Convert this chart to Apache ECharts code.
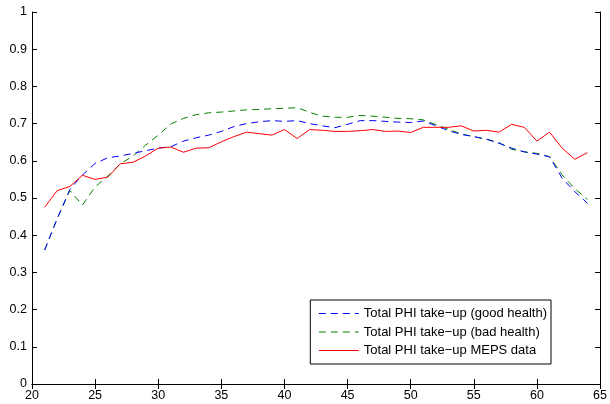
<!DOCTYPE html>
<html>
<head>
<meta charset="utf-8">
<script src="https://cdn.jsdelivr.net/npm/echarts@6/dist/echarts.min.js"></script>
<style>
  html, body { margin: 0; padding: 0; background: #fff; }
  #chart { width: 610px; height: 404px; }
</style>
</head>
<body>
<div id="chart"></div>
<script>
// ages 21..64
const ages = [21,22,23,24,25,26,27,28,29,30,31,32,33,34,35,36,37,38,39,40,41,42,
  43,44,45,46,47,48,49,50,51,52,53,54,55,56,57,58,59,60,61,62,63,64];

const goodHealth = [0.360,0.445,0.523,0.562,0.593,0.608,0.613,0.620,0.627,0.634,0.638,0.653,
  0.662,0.669,0.679,0.692,0.700,0.705,0.708,0.706,0.708,0.700,0.694,0.689,0.698,0.708,
  0.708,0.706,0.704,0.703,0.707,0.694,0.681,0.671,0.665,0.658,0.647,0.634,0.624,0.618,
  0.611,0.553,0.517,0.486];

const badHealth = [0.360,0.445,0.520,0.481,0.530,0.559,0.592,0.613,0.642,0.669,0.699,0.714,
  0.724,0.729,0.731,0.734,0.737,0.738,0.740,0.741,0.743,0.730,0.720,0.717,0.717,0.722,
  0.720,0.717,0.714,0.713,0.710,0.697,0.685,0.672,0.665,0.658,0.649,0.631,0.624,0.620,
  0.611,0.562,0.525,0.496];

const mepsData = [0.475,0.520,0.531,0.561,0.550,0.556,0.592,0.596,0.613,0.634,0.637,0.623,
  0.634,0.635,0.651,0.665,0.677,0.673,0.669,0.684,0.660,0.684,0.682,0.679,0.679,0.681,
  0.684,0.679,0.680,0.676,0.690,0.690,0.690,0.694,0.680,0.682,0.677,0.698,0.690,0.653,
  0.677,0.634,0.604,0.622];

const xTicks = [20,25,30,35,40,45,50,55,60,65];
const yTicks = [0,0.1,0.2,0.3,0.4,0.5,0.6,0.7,0.8,0.9,1];

const seriesNames = [
  "Total PHI take\u2212up (good health)",
  "Total PHI take\u2212up (bad health)",
  "Total PHI take\u2212up MEPS data",
];

const pairs = (ys) => ages.map((a, i) => [a, ys[i]]);

const font = "Liberation Sans, Arial, Helvetica, sans-serif";
const axisLine = { show: true, lineStyle: { color: "#000", width: 1 } };
const tick = { show: true, inside: true, length: 5, lineStyle: { color: "#000" } };

const chart = echarts.init(document.getElementById("chart"));
chart.setOption({
  animation: false,
  grid: { left: 32, right: 9, top: 12, bottom: 20 },
  xAxis: [
    {
      type: "value", min: xTicks[0], max: xTicks[xTicks.length - 1], interval: 5,
      axisLine, axisTick: tick, splitLine: { show: false },
      axisLabel: { color: "#000", fontSize: 12.5, fontFamily: font, margin: 5 },
    },
    {
      type: "value", position: "top", min: xTicks[0], max: xTicks[xTicks.length - 1], interval: 5,
      axisLine, axisTick: tick, splitLine: { show: false }, axisLabel: { show: false },
    },
  ],
  yAxis: [
    {
      type: "value", min: yTicks[0], max: yTicks[yTicks.length - 1], interval: 0.1,
      axisLine, axisTick: tick, splitLine: { show: false },
      axisLabel: {
        color: "#000", fontSize: 12.5, fontFamily: font, margin: 5,
        formatter: (v) => String(Math.round(v * 10) / 10),
      },
    },
    {
      type: "value", position: "right", min: yTicks[0], max: yTicks[yTicks.length - 1], interval: 0.1,
      axisLine, axisTick: tick, splitLine: { show: false }, axisLabel: { show: false },
    },
  ],
  legend: {
    orient: "vertical",
    right: 59,
    top: 300,
    backgroundColor: "#fff",
    borderColor: "#000",
    borderWidth: 1,
    borderRadius: 0,
    padding: [7, 4, 7, 8],
    itemGap: 5.5,
    itemWidth: 40,
    itemHeight: 14,
    itemStyle: { opacity: 0 },
    lineStyle: { width: 1 },
    textStyle: { color: "#000", fontSize: 13, fontFamily: font },
    data: seriesNames,
  },
  series: [
    {
      name: seriesNames[0], type: "line", data: pairs(goodHealth), symbol: "none",
      lineStyle: { color: "#0000ff", width: 1, type: [7, 5] }, itemStyle: { color: "#0000ff" },
      z: 3,
    },
    {
      name: seriesNames[1], type: "line", data: pairs(badHealth), symbol: "none",
      lineStyle: { color: "#008000", width: 1, type: [7, 5] }, itemStyle: { color: "#008000" },
      z: 2,
    },
    {
      name: seriesNames[2], type: "line", data: pairs(mepsData), symbol: "none",
      lineStyle: { color: "#ff0000", width: 1 }, itemStyle: { color: "#ff0000" },
      z: 4,
    },
  ],
});
</script>
</body>
</html>
